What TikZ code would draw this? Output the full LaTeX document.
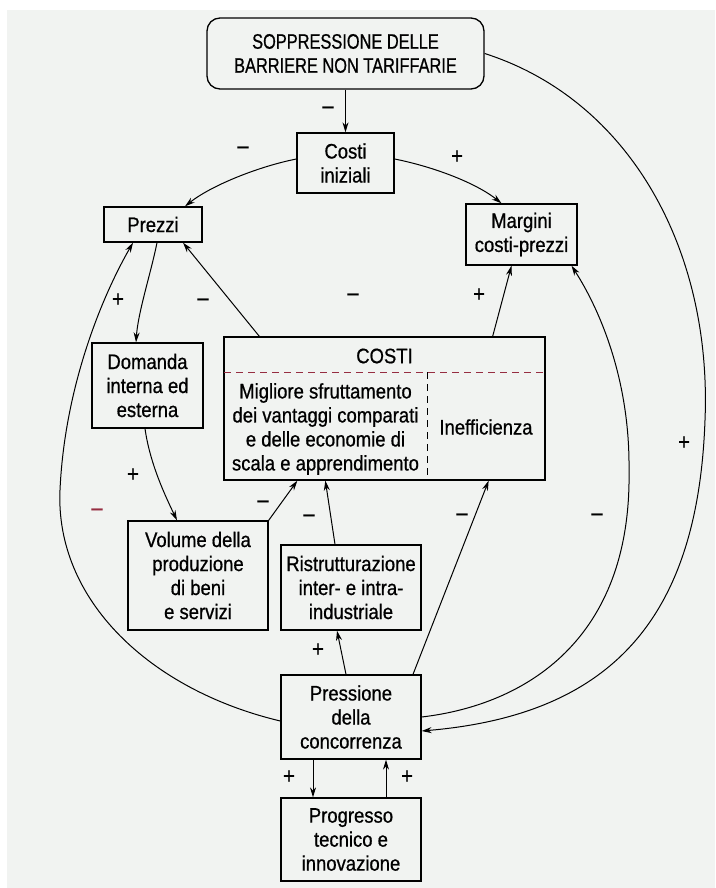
\documentclass[tikz,border=0pt]{standalone}
\usepackage{fontspec}
\setmainfont{Liberation Sans}[FakeStretch=0.88,FakeBold=0.7]
\newfontfamily\capsfont{Liberation Sans}[FakeStretch=0.78,FakeBold=0.7]
\usetikzlibrary{arrows.meta}
\definecolor{bg}{RGB}{241,243,241}
\definecolor{redm}{RGB}{150,45,65}
\newcommand\bxfont{\fontsize{21}{24}\selectfont}
\newcommand\sgfont{\fontsize{23}{23}\selectfont}
\begin{document}
\begin{tikzpicture}[x=1pt,y=-1pt,
  box/.style={draw, line width=1.3pt, inner sep=0pt, align=center, font=\bxfont},
  conn/.style={line width=1pt, -{Stealth[length=10pt,width=6pt]}},
  sgn/.style={font=\sgfont, inner sep=0pt}]
\useasboundingbox (0,0) rectangle (715,888);
\fill[bg] (7,10) rectangle (715,888);

% boxes
\node[box, rounded corners=13pt, minimum width=277pt, minimum height=71pt,
      font=\capsfont\fontsize{21}{24}\selectfont] (top) at (345.5,53.5)
      {SOPPRESSIONE DELLE\\BARRIERE NON TARIFFARIE};
\node[box, minimum width=97pt, minimum height=60pt] (costi) at (345.5,163) {Costi\\iniziali};
\node[box, minimum width=98pt, minimum height=35pt] (prezzi) at (153,224.5) {Prezzi};
\node[box, minimum width=111pt, minimum height=61pt] (margini) at (521.5,234.5) {Margini\\costi-prezzi};
\node[box, minimum width=111pt, minimum height=85pt] (domanda) at (147.5,385.5) {Domanda\\interna ed\\esterna};
\node[box, minimum width=321pt, minimum height=143pt] (COSTI) at (384.5,408.5) {};
\node[font=\bxfont, inner sep=0pt] (costihead) at (384.5,356) {COSTI};
\node[font=\bxfont, inner sep=0pt, align=center] (costileft) at (325.5,429)
      {Migliore sfruttamento\\dei vantaggi comparati\\e delle economie di\\scala e apprendimento};
\node[font=\bxfont, inner sep=0pt] (costiright) at (486,427) {Inefficienza};
\coordinate (dl) at (224,372);
\coordinate (dr) at (545,372);
\coordinate (vt) at (427,372);
\coordinate (vb) at (427,480);
\draw[redm, line width=0.9pt, dash pattern=on 7pt off 5pt] (dl) -- (dr);
\draw[line width=0.9pt, dash pattern=on 7pt off 5pt] (vt) -- (vb);
\node[box, minimum width=140pt, minimum height=109pt] (volume) at (198,575.5) {Volume della\\produzione\\di beni\\e servizi};
\node[box, minimum width=140pt, minimum height=85pt] (ristr) at (351,587.5) {Ristrutturazione\\inter- e intra-\\industriale};
\node[box, minimum width=140pt, minimum height=84pt] (pressione) at (351,717) {Pressione\\della\\concorrenza};
\node[box, minimum width=140pt, minimum height=83pt] (progresso) at (351,839.5) {Progresso\\tecnico e\\innovazione};

% connectors
\draw[conn] (top.south) -- (costi.north);
\draw[conn] ([yshift=4pt]costi.west) .. controls +(-40,8) and +(25,-20) .. ([xshift=32pt]prezzi.north);
\draw[conn] ([yshift=4pt]costi.east) .. controls +(40,8) and +(-25,-20) .. ([xshift=-20pt]margini.north);
\draw[conn] ([xshift=36pt]COSTI.north west) -- ([xshift=30pt]prezzi.south);
\draw[conn] ([xshift=4pt]prezzi.south) .. controls +(-6,30) and +(2,-30) .. ([xshift=-11.5pt]domanda.north);
\draw[conn] ([xshift=-2.5pt]domanda.south) .. controls +(5,35) and +(-12,-25) .. ([xshift=-21pt]volume.north);
\draw[conn] (volume.north east) -- ([xshift=74pt]COSTI.south west);
\draw[conn] ([xshift=-16pt]ristr.north) -- ([xshift=102pt]COSTI.south west);
\draw[conn] ([xshift=-5pt]pressione.north) -- ([xshift=-14pt]ristr.south);
\draw[conn] ([xshift=62pt]pressione.north) -- ([xshift=-57pt]COSTI.south east);
\draw[conn] ([xshift=-53pt]COSTI.north east) -- ([xshift=-10pt]margini.south);
\draw[conn] ([xshift=-38pt]pressione.south) -- ([xshift=-38pt]progresso.north);
\draw[conn] ([xshift=35pt]progresso.north) -- ([xshift=35pt]pressione.south);

% big arcs
\coordinate (la) at (60,490);
\coordinate (ia) at (629,470);
\coordinate (oa) at (705,420);
\draw[conn] ([yshift=-4pt]pressione.west) .. controls (150,690) and (55,600) .. (la)
            .. controls (64.5,390) and (100,300) .. ([xshift=-20pt]prezzi.south);
\draw[conn] (pressione.east) .. controls (525,705) and (632,640) .. (ia)
            .. controls (630,380) and (600,310) .. ([xshift=50pt]margini.south);
\draw[conn] (top.east) .. controls (630,100) and (712,250) .. (oa)
            .. controls (698,620) and (610,715) .. ([yshift=-14pt]pressione.east);

% signs
\node[sgn] (s1) at (328,110) {\textendash};
\node[sgn] (s2) at (243,150) {\textendash};
\node[sgn] (s3) at (457,157) {+};
\node[sgn] (s4) at (203,302) {\textendash};
\node[sgn] (s5) at (118,300) {+};
\node[sgn] (s6) at (353,297) {\textendash};
\node[sgn] (s7) at (479,295) {+};
\node[sgn] (s8) at (133,475) {+};
\node[sgn, text=redm] (s9) at (97,512) {\textendash};
\node[sgn] (s10) at (263,504) {\textendash};
\node[sgn] (s11) at (309,518) {\textendash};
\node[sgn] (s12) at (462,517) {\textendash};
\node[sgn] (s13) at (597,517) {\textendash};
\node[sgn] (s14) at (684,443) {+};
\node[sgn] (s15) at (318,650) {+};
\node[sgn] (s16) at (289,777) {+};
\node[sgn] (s17) at (407,777) {+};
\end{tikzpicture}
\end{document}
